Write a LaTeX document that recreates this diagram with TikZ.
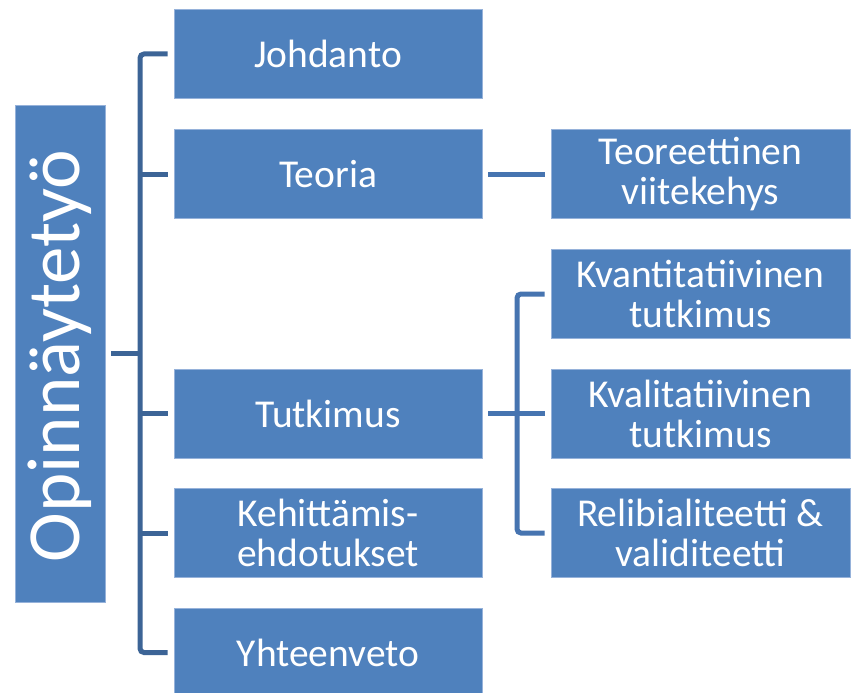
\documentclass[tikz,border=0pt]{standalone}
\usepackage{fontspec}
\setmainfont{Carlito}
\definecolor{boxblue}{RGB}{79,129,189}
\definecolor{boxedge}{RGB}{150,178,218}
\definecolor{leftline}{RGB}{60,100,150}
\definecolor{rightline}{RGB}{70,116,176}
\tikzset{
  blk/.style={draw=boxedge, line width=0.8pt, fill=boxblue, text=white, align=center,
    minimum height=89pt, inner sep=0pt, font=\fontsize{39.5}{40}\selectfont},
  midblk/.style={blk, minimum width=308pt},
  rblk/.style={blk, minimum width=299pt},
  lconn/.style={draw=leftline, line width=5pt, rounded corners=4pt},
  rconn/.style={draw=rightline, line width=5pt, rounded corners=4pt}
}
\begin{document}
\begin{tikzpicture}[x=1pt,y=-1pt]
\path[use as bounding box, fill=white] (0,0) rectangle (851,693);
\begin{scope}
\clip (0,0) rectangle (851,693);
\node[blk, minimum width=90pt, minimum height=497pt] (op) at (60,353.5) {};
\node[text=white, rotate=90, font=\fontsize{75}{80}\selectfont, inner sep=0pt] (optxt) at (60,356) {Opinnäytetyö};
\node[midblk] (j) at (328,54) {Johdanto};
\node[midblk] (t) at (328,174) {Teoria};
\node[midblk] (tu) at (328,413.5) {Tutkimus};
\node[midblk] (k) at (328,533) {Kehittämis-\\ehdotukset};
\node[midblk] (y) at (328,652.5) {Yhteenveto};
\node[rblk] (r1) at (700.5,174) {Teoreettinen\\viitekehys};
\node[rblk] (r2) at (700.5,294) {Kvantitatiivinen\\tutkimus};
\node[rblk] (r3) at (700.5,413.5) {Kvalitatiivinen\\tutkimus};
\node[rblk] (r4) at (700.5,533) {Relibialiteetti \&\\validiteetti};
\coordinate (sp) at (140,0);
\coordinate (bk) at (517,0);
% left spine
\draw[lconn] ([xshift=-6pt]j.west) -- (sp |- j.west) -- (sp |- y.west) -- ([xshift=-6pt]y.west);
\draw[lconn] ([xshift=6pt]op.east) -- (sp |- op.east);
\draw[lconn] ([xshift=-6pt]t.west) -- (sp |- t.west);
\draw[lconn] ([xshift=-6pt]tu.west) -- (sp |- tu.west);
\draw[lconn] ([xshift=-6pt]k.west) -- (sp |- k.west);
% right connectors
\draw[rconn] ([xshift=6pt]t.east) -- ([xshift=-6pt]r1.west);
\draw[rconn] ([xshift=-6pt]r2.west) -- (bk |- r2.west) -- (bk |- r4.west) -- ([xshift=-6pt]r4.west);
\draw[rconn] ([xshift=6pt]tu.east) -- ([xshift=-6pt]r3.west);
\end{scope}
\end{tikzpicture}
\end{document}
